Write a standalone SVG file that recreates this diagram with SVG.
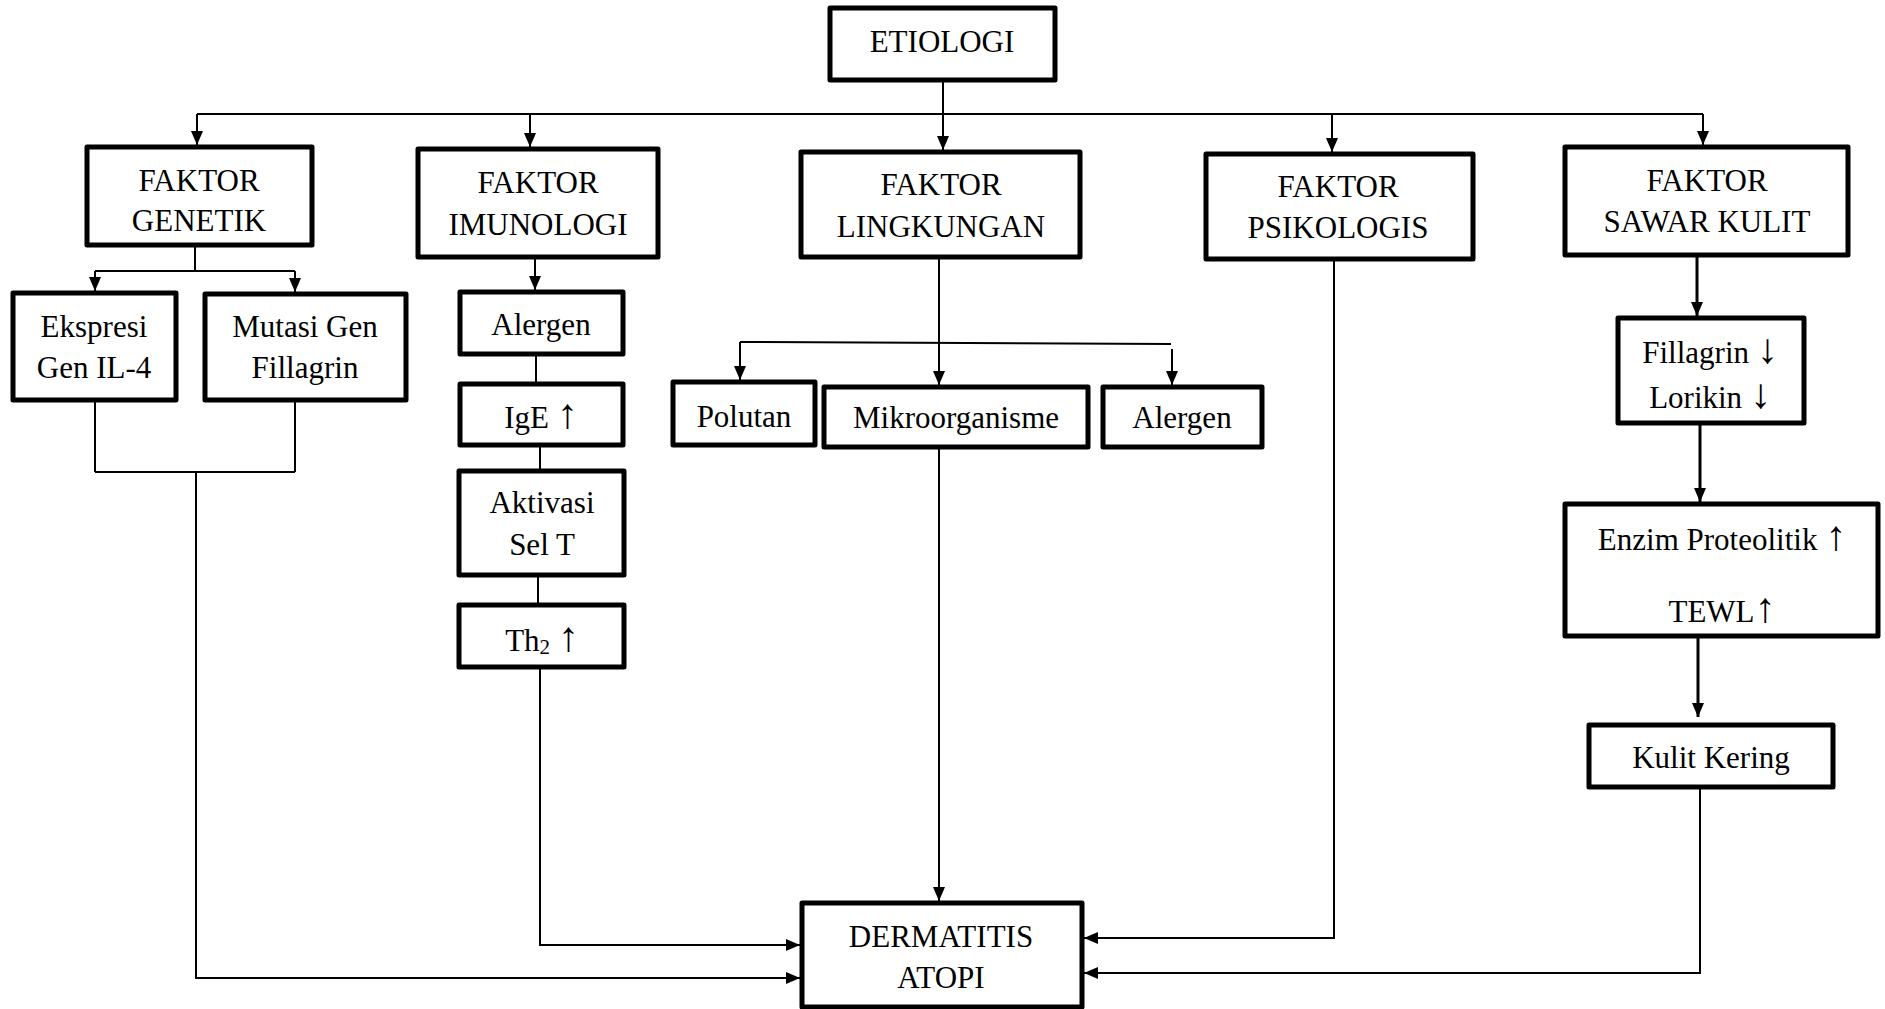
<svg xmlns="http://www.w3.org/2000/svg" width="1885" height="1009" viewBox="0 0 1885 1009">
<style>
  .box { fill: #fff; stroke: #000; stroke-width: 5; stroke-linejoin: round; }
  .t { font-family: "Liberation Serif", "Times New Roman", serif; font-size: 31px; fill: #000; text-anchor: middle; }
  .ar { font-size: 42px; }
  .c { fill: none; stroke: #000; stroke-width: 2; }
  .ck { fill: none; stroke: #000; stroke-width: 3; }
</style>
<defs>
  <marker id="ah" viewBox="0 0 14 12" refX="14" refY="6" markerWidth="14" markerHeight="12" markerUnits="userSpaceOnUse" orient="auto">
    <path d="M0,0 L14,6 L0,12 z" fill="#000"/>
  </marker>
</defs>
<rect width="1885" height="1009" fill="#fff"/>

<g id="connectors">
  <line class="c" x1="943" y1="80" x2="943" y2="150" marker-end="url(#ah)"/>
  <line class="c" x1="197" y1="114" x2="1703" y2="114"/>
  <line class="c" x1="197" y1="114" x2="197" y2="145" marker-end="url(#ah)"/>
  <line class="c" x1="530" y1="114" x2="530" y2="147" marker-end="url(#ah)"/>
  <line class="c" x1="1332" y1="114" x2="1332" y2="152" marker-end="url(#ah)"/>
  <line class="c" x1="1703" y1="114" x2="1703" y2="145" marker-end="url(#ah)"/>

  <line class="c" x1="195" y1="245" x2="195" y2="271"/>
  <line class="c" x1="95" y1="271" x2="295" y2="271"/>
  <line class="c" x1="95" y1="271" x2="95" y2="291" marker-end="url(#ah)"/>
  <line class="c" x1="295" y1="271" x2="295" y2="292" marker-end="url(#ah)"/>
  <line class="c" x1="95" y1="400" x2="95" y2="472"/>
  <line class="c" x1="295" y1="400" x2="295" y2="472"/>
  <line class="c" x1="95" y1="472" x2="295" y2="472"/>
  <polyline class="c" points="196,472 196,978 800,978" marker-end="url(#ah)"/>

  <line class="c" x1="535" y1="257" x2="535" y2="290" marker-end="url(#ah)"/>
  <line class="c" x1="536" y1="354" x2="536" y2="384"/>
  <line class="c" x1="540" y1="445" x2="540" y2="471"/>
  <line class="c" x1="538" y1="575" x2="538" y2="605"/>
  <polyline class="c" points="540,667 540,945 800,945" marker-end="url(#ah)"/>

  <line class="c" x1="939" y1="257" x2="939" y2="385" marker-end="url(#ah)"/>
  <line class="c" x1="740" y1="342" x2="1171" y2="344"/>
  <line class="c" x1="740" y1="342" x2="740" y2="380" marker-end="url(#ah)"/>
  <line class="c" x1="1172" y1="349" x2="1172" y2="385" marker-end="url(#ah)"/>
  <line class="c" x1="939" y1="447" x2="939" y2="901" marker-end="url(#ah)"/>

  <polyline class="c" points="1334,259 1334,938 1084,938" marker-end="url(#ah)"/>

  <line class="ck" x1="1697" y1="255" x2="1697" y2="316" marker-end="url(#ah)"/>
  <line class="ck" x1="1700" y1="423" x2="1700" y2="502" marker-end="url(#ah)"/>
  <line class="ck" x1="1698" y1="636" x2="1698" y2="717" marker-end="url(#ah)"/>
  <polyline class="c" points="1700,787 1700,973 1084,973" marker-end="url(#ah)"/>
</g>

<g id="etiologi">
  <rect class="box" x="830" y="8" width="225" height="72"/>
  <text class="t" x="942" y="52">ETIOLOGI</text>
</g>
<g id="faktor-genetik">
  <rect class="box" x="87" y="147" width="225" height="98"/>
  <text class="t" x="199" y="191">FAKTOR</text>
  <text class="t" x="199" y="231">GENETIK</text>
</g>
<g id="faktor-imunologi">
  <rect class="box" x="418" y="149" width="240" height="108"/>
  <text class="t" x="538" y="193">FAKTOR</text>
  <text class="t" x="538" y="235">IMUNOLOGI</text>
</g>
<g id="faktor-lingkungan">
  <rect class="box" x="801" y="152" width="279" height="105"/>
  <text class="t" x="941" y="195">FAKTOR</text>
  <text class="t" x="941" y="237">LINGKUNGAN</text>
</g>
<g id="faktor-psikologis">
  <rect class="box" x="1206" y="154" width="267" height="105"/>
  <text class="t" x="1338" y="197">FAKTOR</text>
  <text class="t" x="1338" y="238">PSIKOLOGIS</text>
</g>
<g id="faktor-sawar-kulit">
  <rect class="box" x="1565" y="147" width="283" height="108"/>
  <text class="t" x="1707" y="191">FAKTOR</text>
  <text class="t" x="1707" y="232">SAWAR KULIT</text>
</g>
<g id="ekspresi">
  <rect class="box" x="13" y="293" width="163" height="107"/>
  <text class="t" x="94" y="337">Ekspresi</text>
  <text class="t" x="94" y="378">Gen IL-4</text>
</g>
<g id="mutasi">
  <rect class="box" x="205" y="294" width="201" height="106"/>
  <text class="t" x="305" y="337">Mutasi Gen</text>
  <text class="t" x="305" y="378">Fillagrin</text>
</g>
<g id="alergen-imun">
  <rect class="box" x="460" y="292" width="163" height="62"/>
  <text class="t" x="541" y="335">Alergen</text>
</g>
<g id="ige">
  <rect class="box" x="460" y="384" width="163" height="61"/>
  <text class="t" x="541" y="428">IgE <tspan class="ar">↑</tspan></text>
</g>
<g id="aktivasi">
  <rect class="box" x="459" y="471" width="165" height="104"/>
  <text class="t" x="542" y="513">Aktivasi</text>
  <text class="t" x="542" y="555">Sel T</text>
</g>
<g id="th2">
  <rect class="box" x="459" y="605" width="165" height="62"/>
  <text class="t" x="542" y="651">Th<tspan font-size="21" dy="3">2</tspan><tspan dy="-3"> </tspan><tspan class="ar">↑</tspan></text>
</g>
<g id="polutan">
  <rect class="box" x="673" y="382" width="142" height="63"/>
  <text class="t" x="744" y="427">Polutan</text>
</g>
<g id="mikroorganisme">
  <rect class="box" x="824" y="387" width="264" height="60"/>
  <text class="t" x="956" y="428">Mikroorganisme</text>
</g>
<g id="alergen-lingk">
  <rect class="box" x="1103" y="387" width="159" height="60"/>
  <text class="t" x="1182" y="428">Alergen</text>
</g>
<g id="fillagrin">
  <rect class="box" x="1618" y="318" width="186" height="105"/>
  <text class="t" x="1710" y="363">Fillagrin <tspan class="ar">↓</tspan></text>
  <text class="t" x="1710" y="408">Lorikin <tspan class="ar">↓</tspan></text>
</g>
<g id="enzim">
  <rect class="box" x="1565" y="504" width="313" height="132"/>
  <text class="t" x="1722" y="550">Enzim Proteolitik <tspan class="ar">↑</tspan></text>
  <text class="t" x="1722" y="622">TEWL<tspan class="ar">↑</tspan></text>
</g>
<g id="kulit-kering">
  <rect class="box" x="1589" y="725" width="244" height="62"/>
  <text class="t" x="1711" y="768">Kulit Kering</text>
</g>
<g id="dermatitis-atopi">
  <rect class="box" x="802" y="903" width="280" height="104"/>
  <text class="t" x="941" y="947">DERMATITIS</text>
  <text class="t" x="941" y="988">ATOPI</text>
</g>
</svg>
